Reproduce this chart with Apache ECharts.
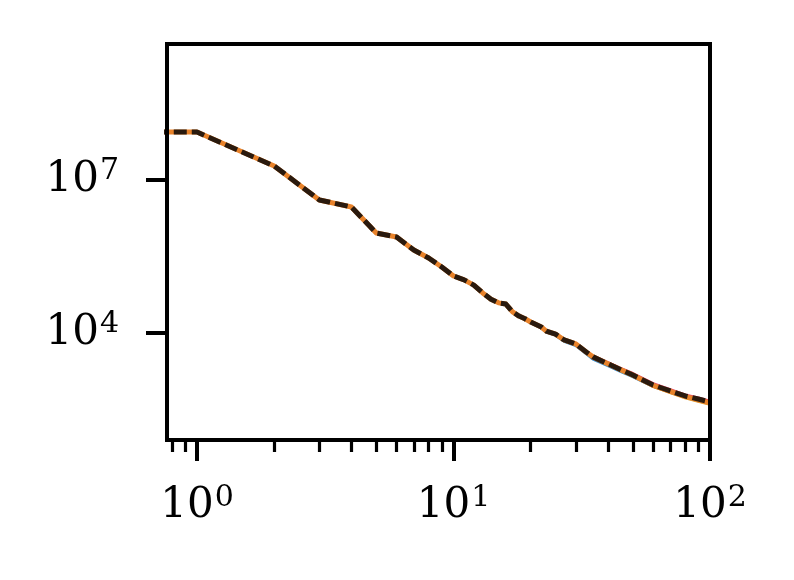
<!DOCTYPE html>
<html><head><meta charset="utf-8">
<script src="https://cdn.jsdelivr.net/npm/echarts@6/dist/echarts.min.js"></script>
<style>html,body{margin:0;padding:0;background:#fff}#c{width:794px;height:580px}</style>
</head><body><div id="c"></div>
<script>
// Ranks (x) and values (y)
const ranks = [0.5, 1, 2, 3, 4, 5, 6, 7, 8, 9, 10, 11, 12, 13, 14, 15, 16, 17, 18, 19, 20, 22, 23, 25, 27, 30, 33, 35, 40, 45, 50, 60, 70, 80, 90, 100];
const seriesBlack  = [8.7e7, 8.7e7, 1.88e7, 4.06e6, 2.96e6, 9.14e5, 7.62e5, 4.24e5, 2.96e5, 1.97e5, 1.31e5, 1.1e5, 8.7e4, 6.1e4, 4.6e4, 3.9e4, 3.7e4, 2.6e4, 2.15e4, 1.9e4, 1.64e4, 1.31e4, 1.09e4, 9.5e3, 7.3e3, 6.1e3, 4.2e3, 3.4e3, 2.5e3, 1.9e3, 1.5e3, 955, 730, 582, 508, 444];
const seriesOrange = [8.7e7, 8.7e7, 1.88e7, 4.06e6, 2.96e6, 9.14e5, 7.62e5, 4.24e5, 2.96e5, 1.97e5, 1.31e5, 1.1e5, 8.7e4, 6.1e4, 4.6e4, 3.9e4, 3.7e4, 2.6e4, 2.15e4, 1.9e4, 1.64e4, 1.31e4, 1.09e4, 9.5e3, 7.3e3, 6.1e3, 4.2e3, 3.4e3, 2.5e3, 1.9e3, 1.5e3, 940, 720, 570, 490, 425];
const seriesBlue   = [8.7e7, 8.7e7, 1.88e7, 4.06e6, 2.96e6, 9.14e5, 7.62e5, 4.24e5, 2.96e5, 1.97e5, 1.31e5, 1.1e5, 8.7e4, 6.1e4, 4.6e4, 3.9e4, 3.7e4, 2.6e4, 2.15e4, 1.9e4, 1.6e4, 1.27e4, 1.05e4, 9.1e3, 6.9e3, 5.7e3, 3.9e3, 3.1e3, 2.3e3, 1.75e3, 1.4e3, 900, 700, 560, 490, 430];
const seriesRed    = [8.7e7, 8.7e7, 1.88e7, 4.06e6, 2.96e6, 9.14e5, 7.62e5, 4.24e5, 2.96e5, 1.97e5, 1.31e5, 1.1e5, 8.7e4, 6.1e4, 4.6e4, 3.9e4, 3.7e4, 2.6e4, 2.15e4, 1.9e4, 1.64e4, 1.31e4, 1.09e4, 9.5e3, 7.3e3, 6.1e3, 4.2e3, 3.5e3, 2.6e3, 2.0e3, 1.6e3, 1010, 770, 610, 530, 460];
const seriesGold   = [8.7e7, 8.7e7, 1.88e7, 4.06e6, 2.96e6, 9.14e5, 7.62e5, 4.24e5, 2.96e5, 1.97e5, 1.31e5, 1.1e5, 8.7e4, 6.1e4, 4.6e4, 3.9e4, 3.7e4, 2.6e4, 2.15e4, 1.9e4, 1.62e4, 1.29e4, 1.07e4, 9.3e3, 7.1e3, 5.9e3, 4.1e3, 3.3e3, 2.4e3, 1.82e3, 1.44e3, 900, 680, 540, 460, 400];
const xMajorTicks = [1, 10, 100];
const xMinorTicks = [0.8, 0.9, 2, 3, 4, 5, 6, 7, 8, 9, 20, 30, 40, 50, 60, 70, 80, 90];
const yMajorTicks = [1e4, 1e7];

const pair = arr => ranks.map((r, i) => [r, arr[i]]);
const fmt = v => {
  const e = Math.round(Math.log10(v));
  return '{b|10}{s|' + e + '}';
};
const rich = {
  b: {fontFamily: 'DejaVu Serif', fontSize: 42, color: '#000'},
  s: {fontFamily: 'DejaVu Serif', fontSize: 30, color: '#000', padding: [0, 0, 17, 1]}
};
const xmin = 0.764, xmax = 100, ymin = 79.8, ymax = 4.64e9;

const chart = echarts.init(document.getElementById('c'), null, {renderer: 'canvas'});
const line = (name, data, color, width, type, z) => ({
  name, type: 'line', data: pair(data), showSymbol: false, symbol: 'none', clip: true, z,
  lineStyle: {color, width, type, cap: 'butt', join: 'round'}, animation: false
});
chart.setOption({
  backgroundColor: '#fff',
  animation: false,
  grid: {left: 167, right: 84, top: 44, bottom: 140, show: true, borderColor: '#000', borderWidth: 4, backgroundColor: 'transparent', z: 10},
  xAxis: [
    {type: 'log', logBase: 10, min: xmin, max: xmax, splitLine: {show: false},
     axisLine: {show: true, lineStyle: {color: '#000', width: 4}},
     axisTick: {show: true, customValues: xMajorTicks, length: 21, lineStyle: {color: '#000', width: 4}},
     axisLabel: {show: true, customValues: xMajorTicks, margin: 43, formatter: fmt, rich}},
    {type: 'log', logBase: 10, min: xmin, max: xmax, position: 'bottom', offset: 0, splitLine: {show: false},
     axisLine: {show: false},
     axisTick: {show: true, customValues: xMinorTicks, length: 12, lineStyle: {color: '#000', width: 3.2}},
     axisLabel: {show: false}}
  ],
  yAxis: {type: 'log', logBase: 10, min: ymin, max: ymax, splitLine: {show: false},
    axisLine: {show: true, lineStyle: {color: '#000', width: 4}},
    axisTick: {show: true, customValues: yMajorTicks, length: 21, lineStyle: {color: '#000', width: 4}},
    axisLabel: {show: true, customValues: yMajorTicks, margin: 48, formatter: fmt, rich}},
  series: [
    line('blue', seriesBlue, '#3a8ccc', 3.2, 'solid', 1),
    line('red', seriesRed, '#e6476e', 3.2, 'solid', 2),
    line('gold', seriesGold, '#dca032', 3.2, 'solid', 3),
    line('orange', seriesOrange, '#e8822a', 5, 'solid', 4),
    line('black', seriesBlack, '#2a1a0e', 5, [13, 5], 5)
  ]
});
</script></body></html>
